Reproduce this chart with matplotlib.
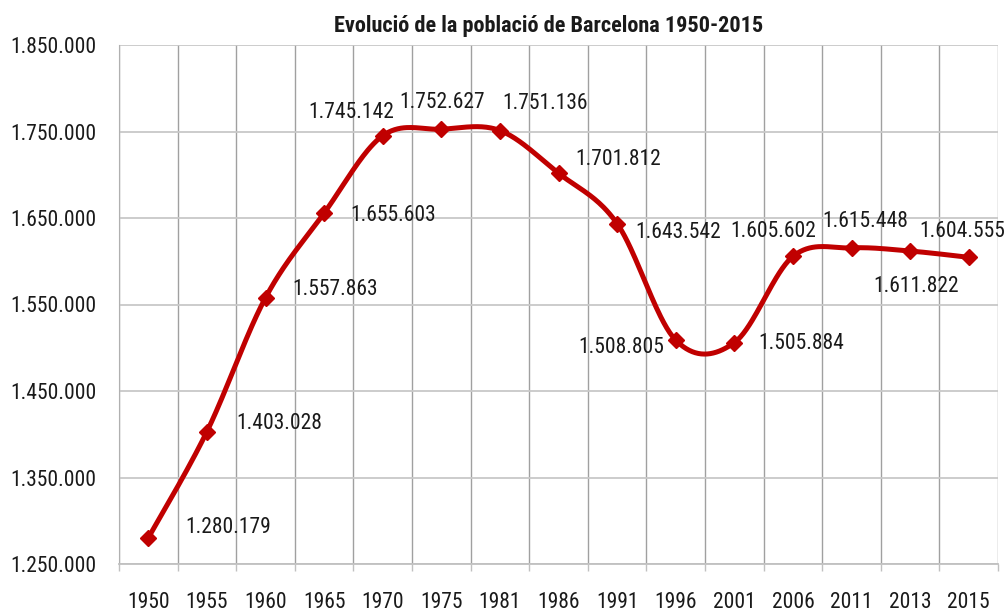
import matplotlib
matplotlib.use("Agg")
import matplotlib.pyplot as plt
from matplotlib.ticker import FuncFormatter, FixedLocator
import numpy as np

years = ["1950", "1955", "1960", "1965", "1970", "1975", "1981", "1986",
         "1991", "1996", "2001", "2006", "2011", "2013", "2015"]
population = [1280179, 1403028, 1557863, 1655603, 1745142, 1752627, 1751136,
              1701812, 1643542, 1508805, 1505884, 1605602, 1615448, 1611822,
              1604555]
# label offsets (pixels) relative to each marker
label_dx = [80, 72, 70, 69, -31, 1, 45, 60, 61, -54, 67, -20, 14, 6, -6]
label_dy = [10, 8, 8, -2, 23, 27, 27, 14, -9, -7, -1, 25, 26, -35, 26]

title = "Evolució de la població de Barcelona 1950-2015"
y_min, y_max, y_step = 1250000, 1850000, 100000

plt.rcParams['font.family'] = ['Roboto Condensed', 'Archivo Narrow', 'Liberation Sans', 'DejaVu Sans']

def fmt(v):
    return f"{int(round(v)):,}".replace(",", ".")

fig = plt.figure(figsize=(10.06, 6.12), dpi=100)
ax = fig.add_axes([119/1006, 1 - 564/612, (998-119)/1006, (564-45)/612])

x = np.arange(len(years))
y = np.array(population, dtype=float)

# Catmull-Rom style smoothing (like Excel's smoothed line)
P = np.column_stack([x, y])
ext = np.vstack([P[0], P, P[-1]])
curve = []
t = np.linspace(0, 1, 40)[:, None]
for i in range(len(P) - 1):
    p0, p1, p2, p3 = ext[i], ext[i+1], ext[i+2], ext[i+3]
    b1 = p1 + (p2 - p0) / 6
    b2 = p2 - (p3 - p1) / 6
    seg = ((1-t)**3) * p1 + 3*((1-t)**2)*t*b1 + 3*(1-t)*t**2*b2 + t**3*p2
    curve.append(seg if i == 0 else seg[1:])
curve = np.vstack(curve)

ax.plot(curve[:, 0], curve[:, 1], color="#C00000", lw=3.6, solid_capstyle="round", zorder=3)
ax.plot(x, y, linestyle="none", marker="D", markersize=8, color="#C00000", zorder=4)

for xi, yi, dx, dy in zip(x, y, label_dx, label_dy):
    ax.annotate(fmt(yi), (xi, yi), xytext=(dx, dy), textcoords="offset pixels",
                ha="center", va="center", fontsize=15.5, color="#1a1a1a",
                annotation_clip=False, zorder=5)

ax.set_xlim(-0.5, len(years) - 0.5)
ax.set_ylim(y_min, y_max)
ax.yaxis.set_major_locator(FixedLocator(np.arange(y_min, y_max + 1, y_step)))
ax.yaxis.set_major_formatter(FuncFormatter(lambda v, p: fmt(v)))
ax.tick_params(axis="y", length=0, pad=16, labelsize=15.5, labelcolor="#1a1a1a")

ax.xaxis.set_major_locator(FixedLocator(np.arange(-0.5, len(years), 1.0)))
ax.xaxis.set_major_formatter(FuncFormatter(lambda v, p: ""))
ax.set_xticks(x, minor=True)
ax.set_xticklabels(years, minor=True)
ax.tick_params(axis="x", which="major", length=5, width=1, color="#c0c0c0", direction="out")
ax.tick_params(axis="x", which="minor", length=0, pad=20, labelsize=15.5, labelcolor="#1a1a1a")

ax.grid(axis="x", which="major", color="#a0a0a0", lw=1.0)
ax.grid(axis="y", which="major", color="#c8c8c8", lw=1.3)
ax.set_axisbelow(True)
for s in ["top", "right"]:
    ax.spines[s].set_visible(False)
ax.spines["left"].set_color("#b0b0b0")
ax.spines["bottom"].set_color("#c0c0c0")
ax.spines["bottom"].set_linewidth(1.3)

fig.text(549/1006, 1 - 26/612, title, ha="center", va="center",
         fontsize=16, fontweight="bold", color="#1a1a1a")

fig.savefig("out.png", dpi=100)
